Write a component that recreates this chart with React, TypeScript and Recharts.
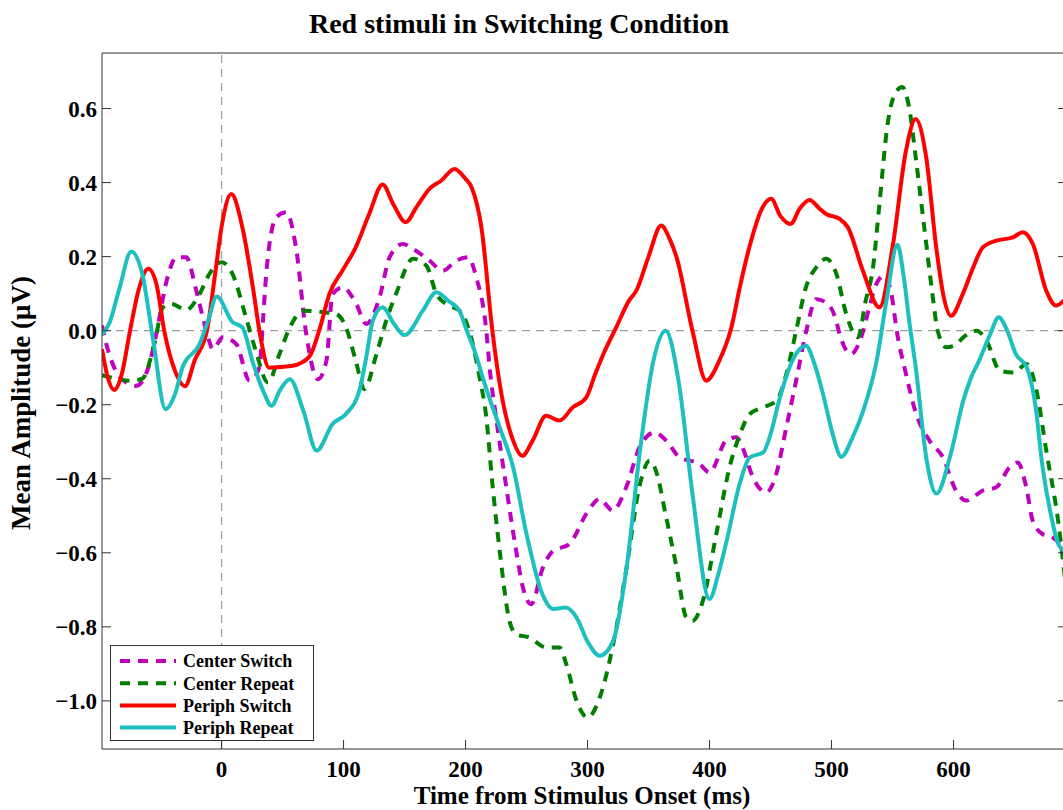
import { Legend, Line, LineChart, ReferenceLine, XAxis, YAxis } from "recharts"

// [time in ms, mean amplitude in µV]
const centerSwitch: [number, number][] = [
  [-98, 0.014], [-94.5, -0.036], [-86, -0.113], [-78, -0.14], [-70, -0.149], [-60, -0.099],
  [-53.5, -0.009], [-45, 0.135], [-37, 0.198], [-29, 0.198], [-20.7, 0.108], [-12.5, 0],
  [-7, -0.05], [1, -0.018], [12, -0.036], [23, -0.135], [31, -0.099], [34, 0.03], [36.6, 0.153],
  [44.8, 0.306], [53, 0.32], [61, 0.225], [69.4, -0.009], [79, -0.131], [86, -0.081], [91, 0.099],
  [99.4, 0.117], [110.4, 0.072], [118.6, 0.018], [129.5, 0.09], [137.7, 0.198], [148.6, 0.234],
  [157, 0.221], [170.5, 0.189], [181.4, 0.162], [192.4, 0.189], [202, 0.198], [208.8, 0.144],
  [217, 0], [219.7, -0.099], [225, -0.234], [233.4, -0.423], [241.5, -0.595], [247, -0.694],
  [253.8, -0.739], [263.4, -0.64], [271.6, -0.595], [285, -0.577], [299, -0.495], [309.8, -0.455],
  [320.7, -0.486], [331.7, -0.423], [342.6, -0.315], [355, -0.275], [364.5, -0.297], [375.4, -0.342],
  [391.8, -0.36], [400, -0.383], [413.6, -0.297], [421.9, -0.288], [427, -0.315], [435.5, -0.396],
  [446.5, -0.437], [454.7, -0.387], [462.9, -0.261], [471, -0.135], [479.3, 0], [487.5, 0.085],
  [497, 0.072], [503.8, 0.027], [506.6, -0.009], [516, -0.063], [524.3, -0.018], [531, 0.063],
  [536.6, 0.126], [543.4, 0.149], [550, 0.081], [553, 0.009], [561, -0.117], [569.4, -0.225],
  [580.3, -0.297], [591.2, -0.342], [602, -0.432], [610.4, -0.459], [624, -0.432], [635, -0.423],
  [646, -0.369], [652.7, -0.356], [659.6, -0.423], [665, -0.514], [673.2, -0.55], [681.4, -0.559],
  [693, -0.6],
]

const centerRepeat: [number, number][] = [
  [-98, -0.12], [-86, -0.13], [-75, -0.135], [-65, -0.13], [-55, -0.035], [-48, 0.063], [-41, 0.072],
  [-29, 0.056], [-18, 0.099], [-10, 0.153], [0, 0.185], [9, 0.153], [20, 0.036], [28, -0.054],
  [38, -0.14], [47.5, -0.063], [56, 0.009], [67, 0.054], [83, 0.05], [94, 0.045], [102, 0.009],
  [110, -0.081], [117, -0.158], [127, -0.063], [135, 0.027], [143, 0.099], [157, 0.194], [168, 0.175],
  [176, 0.1], [185, 0.07], [195, 0.054], [203, 0], [211.5, -0.126], [217, -0.234], [222, -0.414],
  [228, -0.595], [236, -0.784], [241.5, -0.82], [252.5, -0.829], [266, -0.856], [277, -0.856],
  [282.5, -0.9], [291, -1.0], [300, -1.045], [310, -0.991], [321, -0.847], [332, -0.64], [343, -0.414],
  [351, -0.351], [356, -0.378], [364.5, -0.505], [373, -0.64], [381, -0.775], [386, -0.784],
  [394.5, -0.73], [405.5, -0.55], [416.4, -0.369], [425, -0.279], [433, -0.225], [444, -0.207],
  [455, -0.189], [463, -0.117], [471, 0], [479, 0.117], [487.5, 0.171], [495.6, 0.194], [504, 0.153],
  [512, 0.045], [521.6, -0.018], [528, 0.081], [534, 0.171], [539, 0.333], [546, 0.559], [552, 0.64],
  [558, 0.658], [564, 0.595], [569, 0.468], [576, 0.279], [582, 0.117], [587, 0], [594, -0.045],
  [601, -0.04], [608, -0.018], [619, 0], [627, -0.027], [638, -0.108], [649, -0.113], [660, -0.09],
  [668, -0.162], [676, -0.324], [686, -0.52], [693, -0.72],
]

const periphSwitch: [number, number][] = [
  [-98, -0.05], [-93, -0.13], [-88, -0.16], [-82, -0.12], [-75, 0], [-68, 0.11], [-60, 0.167],
  [-53, 0.12], [-47, 0], [-38, -0.11], [-30, -0.15], [-22, -0.08], [-12, 0], [-5, 0.16], [0, 0.28],
  [8, 0.369], [17, 0.28], [26, 0.11], [31, 0], [39, -0.1], [48, -0.098], [58, -0.095], [72, -0.07],
  [80, 0], [88.5, 0.1], [99, 0.162], [110, 0.225], [121, 0.315], [132, 0.395], [141, 0.34],
  [151, 0.293], [160, 0.335], [171, 0.385], [180, 0.405], [191, 0.437], [200, 0.41], [205, 0.387],
  [213, 0.279], [222, 0], [228, -0.144], [239, -0.297], [246.5, -0.338], [255, -0.297], [266, -0.23],
  [277, -0.243], [288, -0.207], [299, -0.18], [306, -0.12], [313, -0.063], [323.5, 0.009], [334, 0.081],
  [340, 0.108], [350, 0.2], [360.4, 0.284], [367, 0.25], [373, 0.198], [386, 0], [397.3, -0.135],
  [408, -0.081], [418, 0.01], [425, 0.12], [433, 0.23], [443, 0.33], [450.5, 0.356], [458, 0.31],
  [466.4, 0.288], [474, 0.33], [482, 0.353], [490, 0.33], [495.6, 0.315], [506.6, 0.302],
  [513.4, 0.279], [525.7, 0.162], [539.3, 0.063], [550, 0.225], [561, 0.486], [568.9, 0.572],
  [577.6, 0.468], [585.8, 0.225], [592, 0.09], [598, 0.04], [607.6, 0.099], [616, 0.17], [624, 0.225],
  [635, 0.243], [648.6, 0.252], [656.8, 0.266], [665, 0.234], [676, 0.108], [684, 0.068], [693, 0.09],
]

const periphRepeat: [number, number][] = [
  [-98, -0.01], [-92, 0.02], [-84, 0.11], [-74, 0.214], [-65, 0.153], [-56, -0.027], [-46, -0.212],
  [-38, -0.17], [-32, -0.099], [-18, -0.036], [-11, 0.027], [-4, 0.092], [9, 0.023], [17, 0.009],
  [26, -0.09], [34, -0.162], [41, -0.203], [48, -0.16], [56, -0.131], [67, -0.216], [78, -0.324],
  [91, -0.252], [102, -0.225], [113, -0.162], [118.6, -0.072], [124, 0.027], [132, 0.063], [141, 0.02],
  [150, -0.012], [165, 0.054], [176, 0.104], [186, 0.08], [195, 0.054], [201, 0], [209, -0.07],
  [214, -0.126], [228, -0.261], [239, -0.369], [250, -0.55], [263, -0.712], [272, -0.752],
  [282, -0.748], [291, -0.775], [300, -0.84], [310, -0.878], [321, -0.838], [332, -0.64],
  [343, -0.324], [354, -0.081], [364, 0], [375, -0.144], [386, -0.441], [400, -0.725], [407, -0.66],
  [414, -0.568], [425, -0.41], [433, -0.342], [444, -0.329], [450, -0.28], [457, -0.189], [468, -0.08],
  [479, -0.041], [486, -0.09], [493, -0.171], [501, -0.28], [508, -0.341], [517, -0.29], [526, -0.216],
  [537, -0.081], [545, 0.081], [554, 0.232], [559, 0.15], [564, 0.018], [569, -0.099], [578, -0.351],
  [586, -0.44], [597, -0.342], [608, -0.189], [614, -0.13], [621, -0.081], [630, -0.01], [637, 0.036],
  [644, 0], [651, -0.063], [660, -0.099], [667, -0.2], [673, -0.369], [680, -0.5], [686, -0.577],
  [693, -0.6],
]

const xTicks = [0, 100, 200, 300, 400, 500, 600]
const yTicks = [-1.0, -0.8, -0.6, -0.4, -0.2, 0, 0.2, 0.4, 0.6]

const series = [
  { name: "Center Switch", data: centerSwitch, color: "#BF00BF", dash: "10 8" },
  { name: "Center Repeat", data: centerRepeat, color: "#007F00", dash: "10 8" },
  { name: "Periph Switch", data: periphSwitch, color: "#FF0000", dash: undefined },
  { name: "Periph Repeat", data: periphRepeat, color: "#1DBFBF", dash: undefined },
]

const FONT = '"Liberation Serif", "Times New Roman", serif'
const tickStyle = { fontSize: 23, fontWeight: "bold", fill: "#000", fontFamily: FONT }
const formatY = (v: number) => (v < 0 ? "\u2212" : "") + Math.abs(v).toFixed(1)
// top and right axes only carry tick marks, no labels
const noLabel = () => <g />

const toPoints = (arr: [number, number][]) => arr.map(([t, v]) => ({ t, v }))

function LegendBox() {
  return (
    <svg width={204} height={96} style={{ display: "block" }}>
      <rect x={0.5} y={0.5} width={203} height={95} fill="#fff" stroke="#333" strokeWidth={1} />
      {series.map((s, i) => (
        <g key={s.name}>
          <line
            x1={10} x2={66} y1={16 + i * 22.2} y2={16 + i * 22.2}
            stroke={s.color} strokeWidth={4} strokeDasharray={s.dash}
          />
          <text x={73} y={22.3 + i * 22.2} fontSize={18} fontWeight="bold" fontFamily={FONT} fill="#000">
            {s.name}
          </text>
        </g>
      ))}
    </svg>
  )
}

export default function App() {
  return (
    <div style={{ position: "absolute", left: 0, top: 0, width: 1063, height: 810, overflow: "hidden", background: "#fff" }}>
      <LineChart width={1075} height={810} margin={{ top: 52, right: 7, bottom: 60, left: 101 }}>
        <XAxis
          dataKey="t" type="number" domain={[-98, 693]} allowDataOverflow ticks={xTicks} interval={0}
          height={1} stroke="#333" tickSize={-9} tickMargin={21} tick={tickStyle}
        />
        <XAxis
          xAxisId="top" orientation="top" type="number" domain={[-98, 693]} allowDataOverflow
          ticks={xTicks} interval={0} height={1} stroke="#333" tickSize={-9} tick={noLabel}
        />
        <YAxis
          type="number" domain={[-1.13, 0.75]} allowDataOverflow ticks={yTicks} interval={0}
          width={1} stroke="#333" tickSize={-9} tickMargin={14} tick={tickStyle} tickFormatter={formatY}
        />
        <YAxis
          yAxisId="right" orientation="right" type="number" domain={[-1.13, 0.75]} allowDataOverflow
          ticks={yTicks} interval={0} width={1} stroke="#333" tickSize={-9} tick={noLabel}
        />
        <ReferenceLine y={0} stroke="#A0A0A0" strokeWidth={1.2} strokeDasharray="8 6" />
        <ReferenceLine x={0} stroke="#A0A0A0" strokeWidth={1.2} strokeDasharray="8 6" />
        {series.map((s) => (
          <Line
            key={s.name}
            data={toPoints(s.data)}
            dataKey="v"
            name={s.name}
            type="monotone"
            stroke={s.color}
            strokeWidth={4}
            strokeDasharray={s.dash}
            dot={false}
            activeDot={false}
            isAnimationActive={false}
          />
        ))}
        <Legend
          layout="vertical"
          align="center"
          verticalAlign="middle"
          wrapperStyle={{ left: 110, top: 645, width: 204, height: 96 }}
          content={() => <LegendBox />}
        />
      </LineChart>
      <svg width={1063} height={810} style={{ position: "absolute", left: 0, top: 0, pointerEvents: "none" }}>
        <text x={519} y={33} textAnchor="middle" fontSize={28} fontWeight="bold" fontFamily={FONT} fill="#000">
          Red stimuli in Switching Condition
        </text>
        <text x={582} y={804} textAnchor="middle" fontSize={25} fontWeight="bold" fontFamily={FONT} fill="#000">
          Time from Stimulus Onset (ms)
        </text>
        <text
          transform="translate(30,403) rotate(-90)" textAnchor="middle"
          fontSize={27} fontWeight="bold" fontFamily={FONT} fill="#000"
        >
          Mean Amplitude (μV)
        </text>
      </svg>
    </div>
  )
}
